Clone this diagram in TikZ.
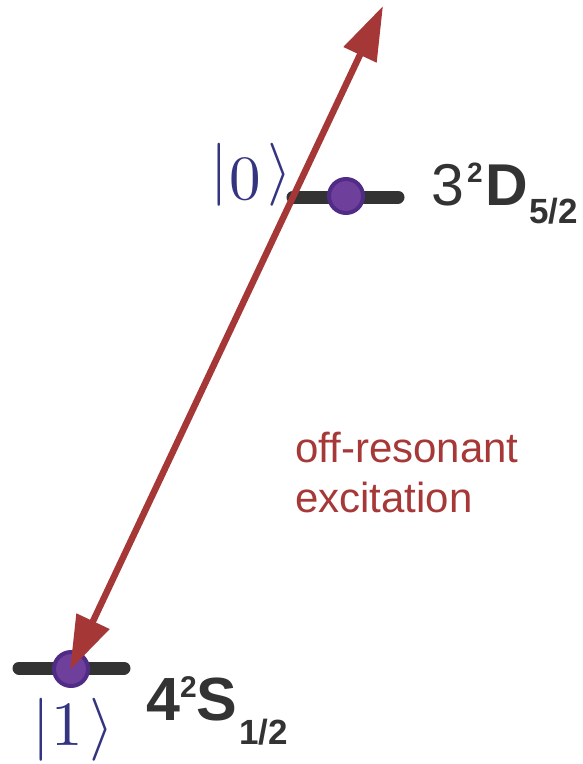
\documentclass[tikz,border=0pt]{standalone}
\usepackage{graphicx}
\usepackage{fontspec}
\newfontfamily\labfont{Liberation Sans}
\usetikzlibrary{arrows.meta}
\definecolor{barcol}{RGB}{51,51,51}
\definecolor{dotfill}{RGB}{110,64,155}
\definecolor{dotring}{RGB}{80,44,134}
\definecolor{arrowred}{RGB}{165,55,55}
\definecolor{textred}{RGB}{166,56,56}
\definecolor{ketblue}{RGB}{52,52,128}
\definecolor{labcol}{RGB}{51,51,51}
\tikzset{
  levelbar/.style={line width=13pt, line cap=round, draw=barcol},
  iondot/.style={circle, minimum size=34pt, inner sep=0pt, fill=dotfill, draw=dotring, line width=4pt},
  ketlab/.style={inner sep=0pt, anchor=base west, text=ketblue},
  statelab/.style={inner sep=0pt, anchor=base west, text=labcol, font=\labfont\fontsize{59}{59}\selectfont},
  noteText/.style={inner sep=0pt, anchor=base west, align=left, text=textred, font=\labfont\fontsize{42}{50}\selectfont},
  laser/.style={draw=arrowred, line width=6.5pt, {Triangle[length=54pt,width=35pt]}-{Triangle[length=54pt,width=35pt]}}
}
\newcommand{\supb}[2]{\raisebox{23pt}{\fontsize{#1}{#1}\selectfont\bfseries #2}}
\newcommand{\subb}[2]{\raisebox{-#1}{\fontsize{35}{35}\selectfont\bfseries #2}}
\newcommand{\myket}[2]{\scalebox{6.3}{$\raisebox{#1}{$|$}\kern0.3pt#2\kern1.0pt\raisebox{#1}{$\rangle$}$}}
\begin{document}
\begin{tikzpicture}[x=1pt,y=-1pt]
\useasboundingbox (0,0) rectangle (582,764);
% energy levels
\coordinate (ub1) at (293,197);
\coordinate (ub2) at (398,197);
\coordinate (lb1) at (19,668);
\coordinate (lb2) at (124,668);
\draw[levelbar] (ub1) -- (ub2);
\draw[levelbar] (lb1) -- (lb2);
% ions
\node[iondot] (up) at (346,196) {};
\node[iondot] (low) at (71,669) {};
% kets
\node[ketlab] (ket0) at (210,199) {\myket{1.3pt}{0}};
\node[ketlab] (ket1) at (32,745) {\myket{0pt}{1}};
% state labels
\node[statelab] (dlab) at (431,205) {3\kern3pt\supb{28}{2}\kern3pt\bfseries D\kern1pt\subb{18pt}{5/2}};
\node[statelab, font=\labfont\fontsize{61}{61}\selectfont] (slab) at (146,720) {\bfseries 4\supb{30}{2}S\kern2pt\subb{24pt}{1/2}};
% note
\node[noteText] (note) at (295,512) {off-resonant\\excitation};
% laser
\coordinate (ltop) at (383,6);
\coordinate (lbot) at (70,670);
\draw[laser] (lbot) -- (ltop);
\end{tikzpicture}
\end{document}
